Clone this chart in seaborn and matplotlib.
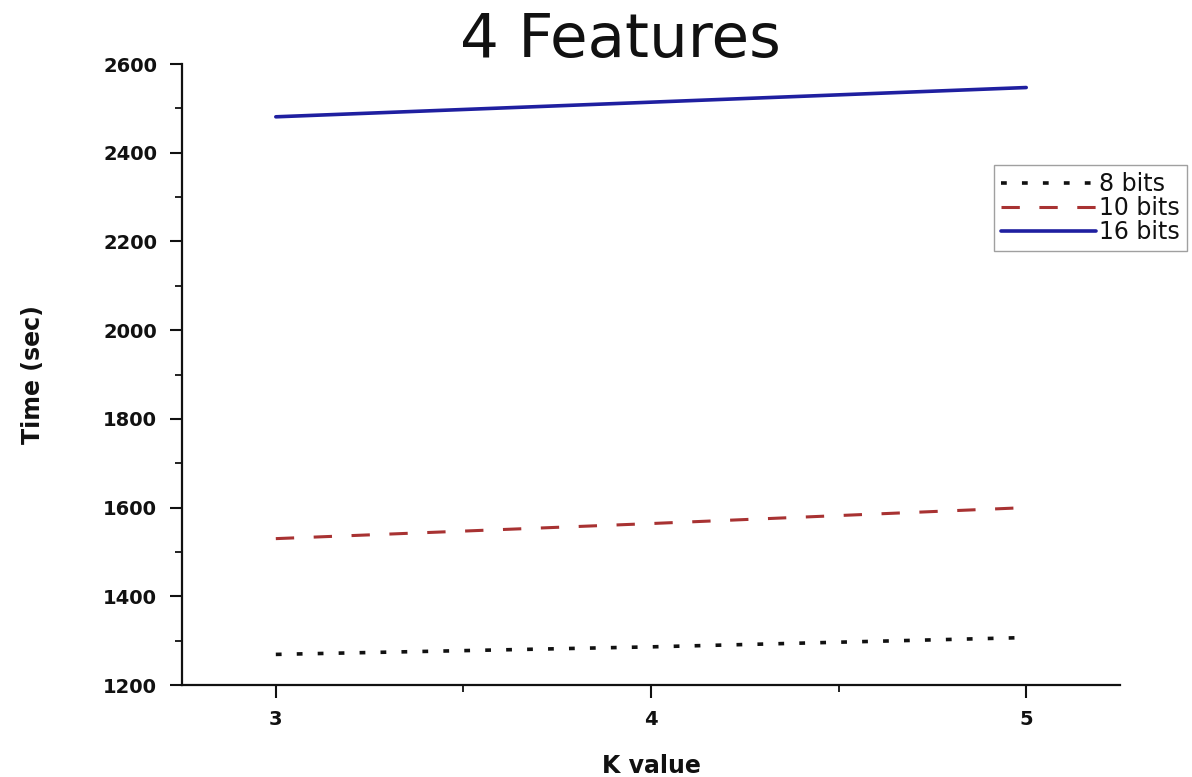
import matplotlib
matplotlib.use("Agg")
import matplotlib.pyplot as plt
from matplotlib.ticker import MultipleLocator
import seaborn as sns
import pandas as pd

# K values and run times (seconds) for each bit width
k_values = [3, 4, 5]
time_8_bits = [1269, 1286, 1307]
time_10_bits = [1530, 1564, 1600]
time_16_bits = [2481, 2514, 2547]

series_labels = ["8 bits", "10 bits", "16 bits"]
y_ticks = [1200, 1400, 1600, 1800, 2000, 2200, 2400, 2600]
x_ticks = [3, 4, 5]

sns.set_style("ticks")
plt.rcParams["font.family"] = ["DejaVu Sans"]

fig = plt.figure(figsize=(11.92, 7.77), dpi=100)
ax = fig.add_axes([0.1527, 0.1184, 0.7869, 0.7992])

styles = [
    dict(color="#111111", lw=2.6, linestyle=(0, (1.6, 4.2))),
    dict(color="#a83232", lw=2.2, linestyle=(0, (6.0, 6.4))),
    dict(color="#1f1fa0", lw=2.6, linestyle="-"),
]
for label, values, st in zip(series_labels, [time_8_bits, time_10_bits, time_16_bits], styles):
    df = pd.DataFrame({"K": k_values, "Time": values})
    sns.lineplot(data=df, x="K", y="Time", ax=ax, label=label, **st)

ax.set_xlim(2.75, 5.25)
ax.set_ylim(1200, 2600)
ax.set_xticks(x_ticks)
ax.set_yticks(y_ticks)
ax.xaxis.set_minor_locator(MultipleLocator(0.5))
ax.yaxis.set_minor_locator(MultipleLocator(100))

for side in ("top", "right"):
    ax.spines[side].set_visible(False)
for side in ("left", "bottom"):
    ax.spines[side].set_linewidth(1.6)
    ax.spines[side].set_color("#111111")

ax.tick_params(axis="both", which="major", direction="out", length=9, width=1.5,
               colors="#111111", labelsize=14, pad=9)
ax.tick_params(axis="both", which="minor", direction="out", length=5, width=1.3,
               colors="#111111")
for lbl in ax.get_xticklabels() + ax.get_yticklabels():
    lbl.set_fontweight("bold")

ax.set_xlabel("K value", fontsize=17, fontweight="bold", labelpad=18, color="#111111")
ax.set_ylabel("Time (sec)", fontsize=17, fontweight="bold", labelpad=42, color="#111111")

fig.text(620 / 1192, 1 - 40 / 777, "4 Features", fontsize=44, ha="center", va="center",
         color="#111111")

leg = ax.legend(loc="upper right", bbox_to_anchor=(1187 / 1192, 1 - 165 / 777),
                bbox_transform=fig.transFigure, borderaxespad=0, fontsize=17,
                handlelength=4.0, handletextpad=0.15, labelspacing=0.0,
                borderpad=0.3, frameon=True, fancybox=False)
leg.get_frame().set_edgecolor("#888888")
leg.get_frame().set_linewidth(1.0)
for txt in leg.get_texts():
    txt.set_color("#111111")

fig.savefig("out.png", dpi=100, facecolor="white")
